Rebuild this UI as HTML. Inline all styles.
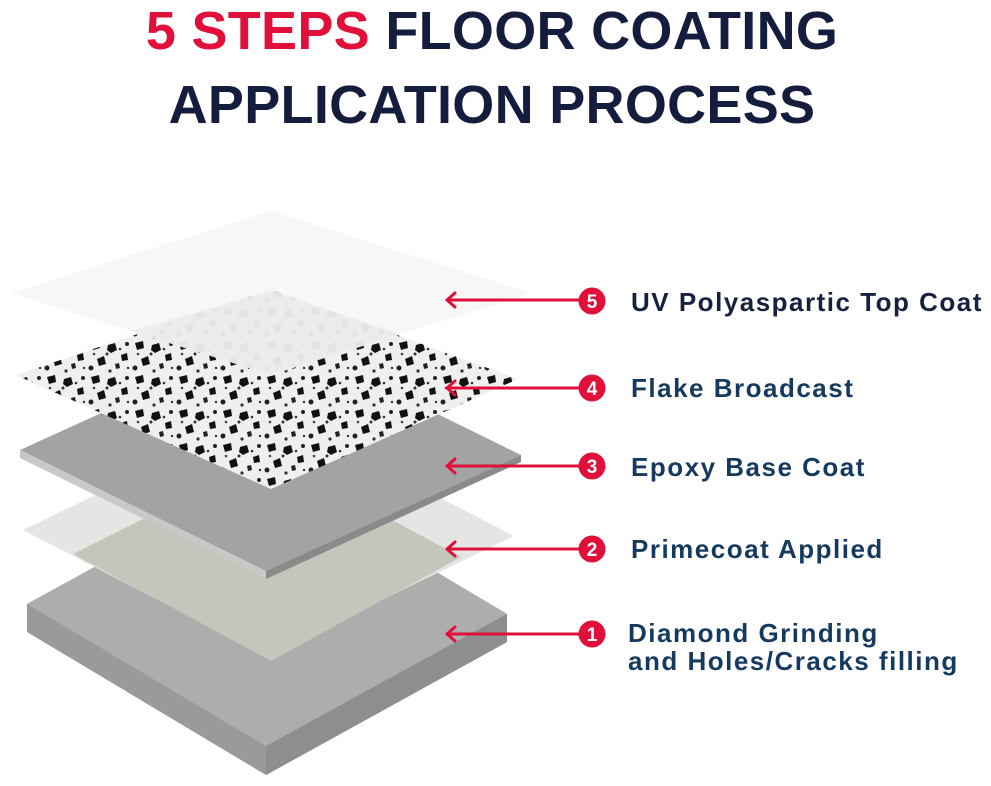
<!DOCTYPE html>
<html><head><meta charset="utf-8"><style>
html,body{margin:0;padding:0;background:#fff;}
svg{display:block}
</style></head><body>
<svg width="991" height="786" viewBox="0 0 991 786" xmlns="http://www.w3.org/2000/svg">
<defs>
<pattern id="fl" width="44" height="34" patternUnits="userSpaceOnUse">
<rect width="44" height="34" fill="#efefef"/>
<polygon points="3,3 11,1 12,8 5,10" fill="#111"/>
<polygon points="20,5 27,3 29,10 23,13 19,10" fill="#111"/>
<polygon points="33,15 39,13 40,20 34,21" fill="#111"/>
<polygon points="9,19 16,16 18,24 11,26" fill="#111"/>
<polygon points="27,24 31,23 32,28 28,29" fill="#222"/>
<circle cx="39" cy="4" r="2" fill="#222"/>
<circle cx="3" cy="28" r="2.5" fill="#222"/>
<circle cx="19" cy="14" r="1.5" fill="#333"/>
<circle cx="32" cy="9" r="1.3" fill="#333"/>
<circle cx="6" cy="14" r="1.3" fill="#444"/>
<circle cx="22" cy="31" r="1.6" fill="#333"/>
<circle cx="40" cy="28" r="1.2" fill="#333"/>
</pattern>
</defs>
<text x="492" y="49" text-anchor="middle" font-family="Liberation Sans, sans-serif" font-weight="bold" font-size="54" letter-spacing="0.3" fill="#141d3d"><tspan fill="#e0103a">5 STEPS</tspan> FLOOR COATING</text>
<text x="492" y="123" text-anchor="middle" font-family="Liberation Sans, sans-serif" font-weight="bold" font-size="54" letter-spacing="0.3" fill="#141d3d">APPLICATION PROCESS</text>

<polygon points="27,604 268,472 507,614 507,642 266,775 27,632" fill="#9a9a9a"/>
<polygon points="27,604 268,472 507,614 266,746" fill="#adadad"/>
<polygon points="266,746 507,614 507,642 266,775" fill="#8e8e8e"/>
<polygon points="23,530 271,410 514,536 266,656" fill="#e2e2e0" opacity="0.9"/>
<polygon points="73,554 271,455 461,557 271,661" fill="#c4c5bb"/>
<polygon points="20,450 275,334 521,455 266,571" fill="#a3a3a3"/>
<polygon points="20,450 266,571 266,579 20,458" fill="#c8c8c8"/>
<polygon points="266,571 521,455 521,462 266,579" fill="#8a8a8a"/>
<polygon points="16,375 271,289 518,379 271,489" fill="url(#fl)"/>
<polygon points="11,293 271,211 531,293 271,375" fill="#f6f6f6" opacity="0.9"/>
<polygon points="130,331 271,291 400,334 271,375" fill="#e6e6e6" opacity="0.6"/>

<g stroke="#e0103a" stroke-width="3" fill="none" stroke-linecap="round" stroke-linejoin="round">
<line x1="447" y1="300" x2="580" y2="300"/><polyline points="455,293 447,300 455,307"/>
<line x1="447" y1="388" x2="580" y2="388"/><polyline points="455,381 447,388 455,395"/>
<line x1="447" y1="466" x2="580" y2="466"/><polyline points="455,459 447,466 455,473"/>
<line x1="447" y1="549" x2="580" y2="549"/><polyline points="455,542 447,549 455,556"/>
<line x1="447" y1="634" x2="580" y2="634"/><polyline points="455,627 447,634 455,641"/>
</g>
<g fill="#e0103a">
<circle cx="592" cy="301" r="13.5"/><circle cx="592" cy="388" r="13.5"/><circle cx="592" cy="466" r="13.5"/><circle cx="592" cy="549" r="13.5"/><circle cx="592" cy="634" r="13.5"/>
</g>
<g fill="#fff" font-family="Liberation Sans, sans-serif" font-weight="bold" font-size="19" text-anchor="middle">
<text x="592" y="308">5</text><text x="592" y="395">4</text><text x="592" y="473">3</text><text x="592" y="556">2</text><text x="592" y="641">1</text>
</g>
<g font-family="Liberation Sans, sans-serif" font-weight="bold" font-size="26" letter-spacing="1.5" fill="#163a5f">
<text x="631" y="311" fill="#17203f">UV Polyaspartic Top Coat</text>
<text x="631" y="397">Flake Broadcast</text>
<text x="631" y="476">Epoxy Base Coat</text>
<text x="631" y="558">Primecoat Applied</text>
<text x="628" y="642">Diamond Grinding</text>
<text x="628" y="670">and Holes/Cracks filling</text>
</g>
</svg>
</body></html>
